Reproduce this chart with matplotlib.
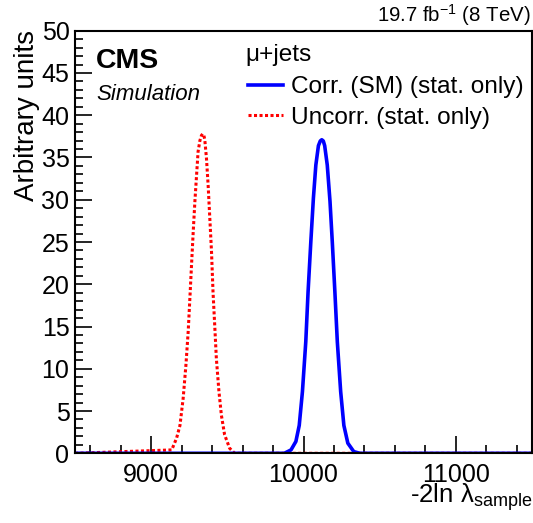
import numpy as np
import matplotlib
matplotlib.use("Agg")
import matplotlib.pyplot as plt
from matplotlib.ticker import MultipleLocator

plt.rcParams['font.family'] = ['Liberation Sans', 'DejaVu Sans']
plt.rcParams['mathtext.fontset'] = 'custom'
plt.rcParams['mathtext.rm'] = 'Liberation Sans'
plt.rcParams['mathtext.it'] = 'Liberation Sans:italic'

# values
uncorr_x = [8500, 9135, 9167, 9189, 9210, 9228, 9243, 9254, 9265, 9276, 9287,
            9298, 9308, 9320, 9330, 9338, 9346, 9352, 9363, 9374, 9385, 9396,
            9406, 9417, 9428, 9445, 9461, 9482, 9515, 9548, 11500]
uncorr_y = [0, 0.4, 1.8, 3.3, 6.5, 10.4, 14.4, 18.3, 22.3, 26.2, 29.8,
            32.9, 35.7, 37.0, 37.6, 37.8, 37.6, 37.1, 34.9, 31.7, 27.8, 23.9,
            19.1, 15.2, 11.2, 7.3, 4.5, 2.2, 0.6, 0, 0]

corr_x = [8500, 9874, 9918, 9950, 9972, 9993, 10015, 10030, 10048, 10065, 10081,
          10098, 10110, 10120, 10130, 10139, 10156, 10174, 10189, 10206, 10222,
          10244, 10265, 10291, 10330, 10370, 11500]
corr_y = [0, 0, 0.4, 1.4, 3.3, 7.3, 13.2, 19.1, 25.0, 30.2, 34.1,
          36.4, 36.95, 37.1, 36.95, 36.4, 34.1, 29.8, 25.0, 19.1, 13.2,
          7.3, 3.3, 1.2, 0.2, 0, 0]

labels = ["Corr. (SM) (stat. only)", "Uncorr. (stat. only)"]

W, H = 533, 523
fig = plt.figure(figsize=(W / 100, H / 100), dpi=100)
ax = fig.add_axes([75 / W, 1 - 453.3 / H, (532 - 75) / W, (453.3 - 30.7) / H])

ax.plot(uncorr_x, uncorr_y, color="red", lw=2.2, linestyle=(0, (1, 0.8)),
        label=labels[1])
ax.plot(corr_x, corr_y, color="blue", lw=2.6, label=labels[0])

ax.set_xlim(8500, 11500)
ax.set_ylim(0, 50)
ax.xaxis.set_major_locator(MultipleLocator(1000))
ax.xaxis.set_minor_locator(MultipleLocator(200))
ax.yaxis.set_major_locator(MultipleLocator(5))
ax.yaxis.set_minor_locator(MultipleLocator(1))
ax.tick_params(which="both", direction="in", top=False, right=False,
               width=1.2, labelsize=18)
ax.tick_params(which="major", length=12)
ax.tick_params(which="minor", length=6)
ax.tick_params(axis="x", pad=7)
ax.tick_params(axis="y", pad=4)
for s in ax.spines.values():
    s.set_linewidth(1.5)

fig.text(532 / W, 1 - 503 / H, "-2ln \u03bb$_{\\mathrm{sample}}$",
         ha="right", va="baseline", fontsize=18.5)
fig.text(40 / W, 1 - 30 / H, "Arbitrary units", rotation=90,
         ha="right", va="top", fontsize=20)
fig.text(531 / W, 1 - 22 / H, r"19.7 fb$^{-1}$ (8 TeV)",
         ha="right", va="baseline", fontsize=14.7)
fig.text(96 / W, 1 - 68 / H, "CMS", fontweight="bold", fontsize=20.5,
         ha="left", va="baseline")
fig.text(96 / W, 1 - 100 / H, "Simulation", style="italic", fontsize=16,
         ha="left", va="baseline")
fig.text(245 / W, 1 - 61.5 / H, "\u03bc+jets", fontsize=17.6,
         ha="left", va="baseline")

handles, labs = ax.get_legend_handles_labels()
leg = ax.legend(handles[::-1], labs[::-1], loc="upper left",
                bbox_to_anchor=(248 / W, 1 - 76 / H), bbox_transform=fig.transFigure,
                frameon=False, fontsize=17.6, borderaxespad=0, borderpad=0,
                handlelength=1.45, handletextpad=0.3, labelspacing=0.36)

fig.savefig("out.png", dpi=100)
